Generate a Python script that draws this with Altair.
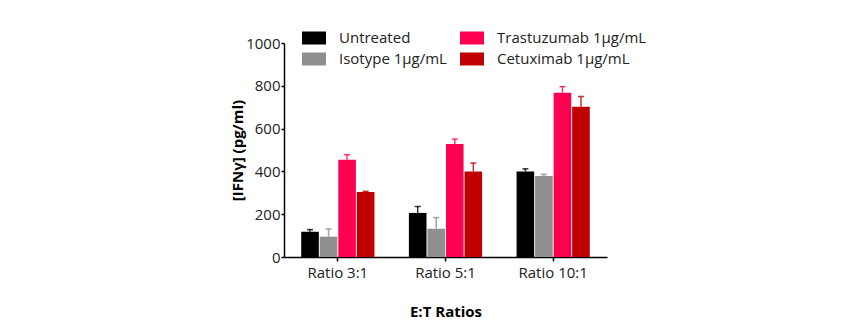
import altair as alt
import pandas as pd

# E:T ratio groups on the x axis
ratios = ["Ratio 3:1", "Ratio 5:1", "Ratio 10:1"]
# treatments, in bar order within each group
treatments = ["Untreated", "Isotype 1μg/mL", "Trastuzumab 1μg/mL", "Cetuximab 1μg/mL"]
colors = ["#000000", "#8f8f8f", "#ff0050", "#c00000"]

# mean IFNγ (pg/ml) per treatment, one value per ratio
untreated = [118, 206, 400]
isotype = [95, 132, 378]
trastuzumab = [455, 528, 768]
cetuximab = [304, 400, 702]

# upper error (SD) per treatment, one value per ratio
untreated_err = [10, 30, 12]
isotype_err = [36, 52, 8]
trastuzumab_err = [23, 23, 28]
cetuximab_err = [3, 39, 48]

means = [untreated, isotype, trastuzumab, cetuximab]
errs = [untreated_err, isotype_err, trastuzumab_err, cetuximab_err]

rows = []
for t, m_list, e_list in zip(treatments, means, errs):
    for r, m, e in zip(ratios, m_list, e_list):
        rows.append({"ratio": r, "treatment": t, "mean": m, "hi": m + e})
df = pd.DataFrame(rows)

FONT = "Open Sans"

color_scale = alt.Scale(domain=treatments, range=colors)

x_enc = alt.X(
    "ratio:N",
    sort=ratios,
    scale=alt.Scale(paddingInner=0.32, paddingOuter=0.16),
    axis=alt.Axis(
        title="E:T Ratios",
        labelAngle=0,
        tickSize=4,
        labelPadding=4,
        titlePadding=24,
    ),
)
xoff = alt.XOffset("treatment:N", sort=treatments, scale=alt.Scale(paddingInner=0.05))
color_enc = alt.Color(
    "treatment:N",
    scale=color_scale,
    legend=alt.Legend(
        title=None,
        orient="none",
        legendX=21,
        legendY=-14,
        columns=2,
        columnPadding=13,
        rowPadding=4,
        symbolType="M-1.333,-0.722H1.333V0.722H-1.333Z",
        symbolSize=324,
        symbolStrokeWidth=0,
        symbolOpacity=1,
        labelOffset=16,
        labelFontSize=15,
        labelFont=FONT,
        labelColor="#222222",
        padding=0,
    ),
)
color_plain = alt.Color("treatment:N", scale=color_scale, legend=None)

bars = alt.Chart(df).mark_bar().encode(
    x=x_enc,
    xOffset=xoff,
    y=alt.Y(
        "mean:Q",
        scale=alt.Scale(domain=[0, 1000], nice=False),
        axis=alt.Axis(
            title="[IFNγ] (pg/ml)",
            values=[0, 200, 400, 600, 800, 1000],
            format="d",
            tickSize=3,
            labelPadding=1,
            titlePadding=0,
            grid=False,
        ),
    ),
    color=color_enc,
)

err_rule = alt.Chart(df).mark_rule(strokeWidth=1.5, opacity=0.8).encode(
    x=alt.X("ratio:N", sort=ratios),
    xOffset=xoff,
    y="mean:Q",
    y2="hi:Q",
    color=color_plain,
)

err_cap = alt.Chart(df).mark_tick(size=6, thickness=1.5, opacity=0.8).encode(
    x=alt.X("ratio:N", sort=ratios),
    xOffset=xoff,
    y="hi:Q",
    color=color_plain,
)

chart = (
    alt.layer(bars, err_rule, err_cap)
    .properties(
        width=323,
        height=214,
        autosize=alt.AutoSizeParams(type="none"),
        padding={"left": 284, "top": 43, "right": 253, "bottom": 70},
        background="white",
    )
    .configure_view(stroke=None)
    .configure_axis(
        domainColor="#000000",
        domainWidth=1.5,
        tickColor="#000000",
        tickWidth=1.5,
        labelFont=FONT,
        labelFontSize=15,
        labelColor="#222222",
        titleFont=FONT,
        titleFontSize=15,
        titleFontWeight="bold",
        titleColor="#000000",
    )
)

chart.save("out.html", embed_options={"renderer": "svg", "actions": False})
